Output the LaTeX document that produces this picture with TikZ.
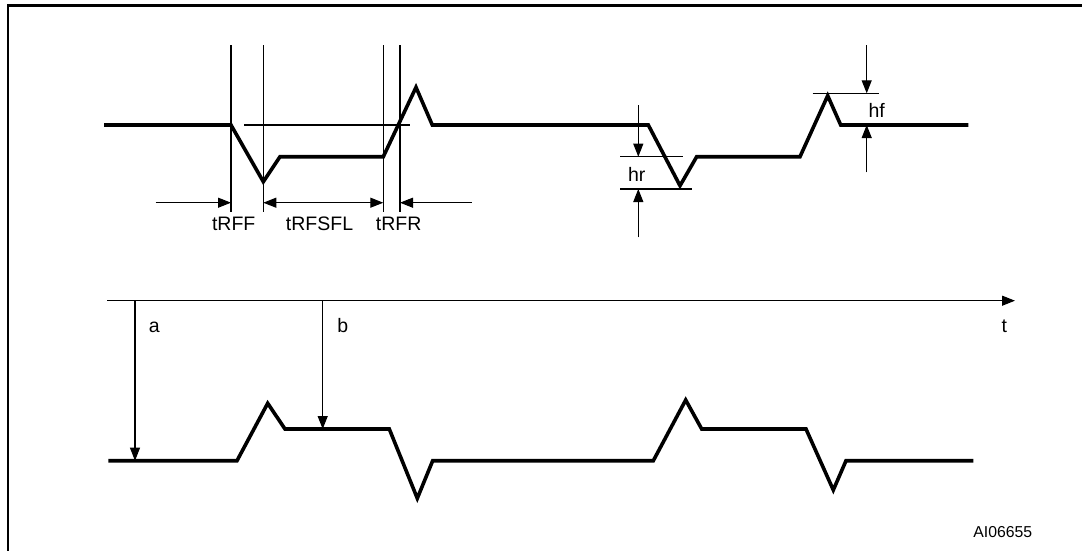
\documentclass[tikz,border=0pt]{standalone}
\usepackage{fontspec}
\setmainfont{Liberation Sans}
\usetikzlibrary{arrows.meta, positioning}

\begin{document}
\begin{tikzpicture}[x=1pt, y=-1pt,
  signal/.style={line width=3.6pt, line join=miter},
  guide/.style={line width=1.1pt},
  dim/.style={line width=1.1pt, -{Triangle[length=13pt, width=10pt]}},
  dimboth/.style={line width=1.1pt, {Triangle[length=13pt, width=10pt]}-{Triangle[length=13pt, width=10pt]}},
  tag/.style={font=\fontsize{19.5}{21}\selectfont, inner sep=0pt}]

\useasboundingbox (0,0) rectangle (1082,550);

% frame
\draw[line width=2.6pt] (8,560) -- (8,5.5) -- (1090,5.5);

% upper waveform
\draw[signal] (104,125) -- (231,125) -- (263.3,181.7) -- (280,156.7) -- (383.3,156.7)
  -- (416,87.3) -- (432.3,125) -- (648.3,125) -- (680,185.7) -- (696.7,156.7)
  -- (800,156.7) -- (827.7,95.7) -- (840.7,125) -- (968.3,125);

% timing guides
\coordinate (gF) at (231,45);
\coordinate (gD) at (263.3,45);
\coordinate (gS) at (383.3,45);
\coordinate (gR) at (400,45);
\draw[guide] (gF) -- (gF |- 0,211.5);
\draw[guide] (gD) -- (gD |- 0,211.5);
\draw[guide] (gS) -- (gS |- 0,211.5);
\draw[guide] (gR) -- (gR |- 0,211.5);
\draw[guide] (244.3,125) -- (410,125);

\coordinate (inF) at (155.7,202.7);
\coordinate (inR) at (471.7,202.7);
\draw[dim] (inF) -- (gF |- inF);
\draw[dimboth] (gD |- inF) -- (gS |- inF);
\draw[dim] (inR) -- (gR |- inR);

\node[tag] (tRFF) at (233.7,224) {tRFF};
\node[tag] (tRFSFL) at (319.5,224) {tRFSFL};
\node[tag] (tRFR) at (398.7,224) {tRFR};

% hr
\draw[guide] (620,156.7) -- (682.7,156.7);
\draw[guide] (620,189) -- (692.3,189);
\draw[dim] (638.3,105) -- (638.3,156.7);
\draw[dim] (638.3,237.3) -- (638.3,189);
\node[tag] (hr) at (636.7,174) {hr};

% hf
\draw[guide] (812.7,93.3) -- (879,93.3);
\draw[dim] (866.7,45) -- (866.7,93.3);
\draw[dim] (866.7,172.3) -- (866.7,125);
\node[tag] (hf) at (876.7,110) {hf};

% time axis
\coordinate (t0) at (107.3,300.7);
\coordinate (t1) at (1015,300.7);
\draw[dim] (t0) -- (t1);
\node[tag] (t) at (1004.3,326) {t};

\coordinate (aT) at (135,300.7);
\coordinate (bT) at (322.7,300.7);
\draw[dim] (aT) -- (135,460.7);
\draw[dim] (bT) -- (322.7,429);
\node[tag] (a) at (154.3,327) {a};
\node[tag] (b) at (342.7,326) {b};

% lower waveform
\draw[signal] (108.3,460.7) -- (237,460.7) -- (267.7,403.3) -- (285,429) -- (389.3,429)
  -- (417.3,498.3) -- (432.7,460.7) -- (653.3,460.7) -- (685.7,400) -- (701.7,429)
  -- (806,429) -- (833.3,490) -- (846,460.7) -- (973.3,460.7);

\node[font=\fontsize{15.8}{17}\selectfont, inner sep=0pt] (ref) at (1002.8,532.3) {AI06655};

\end{tikzpicture}
\end{document}
